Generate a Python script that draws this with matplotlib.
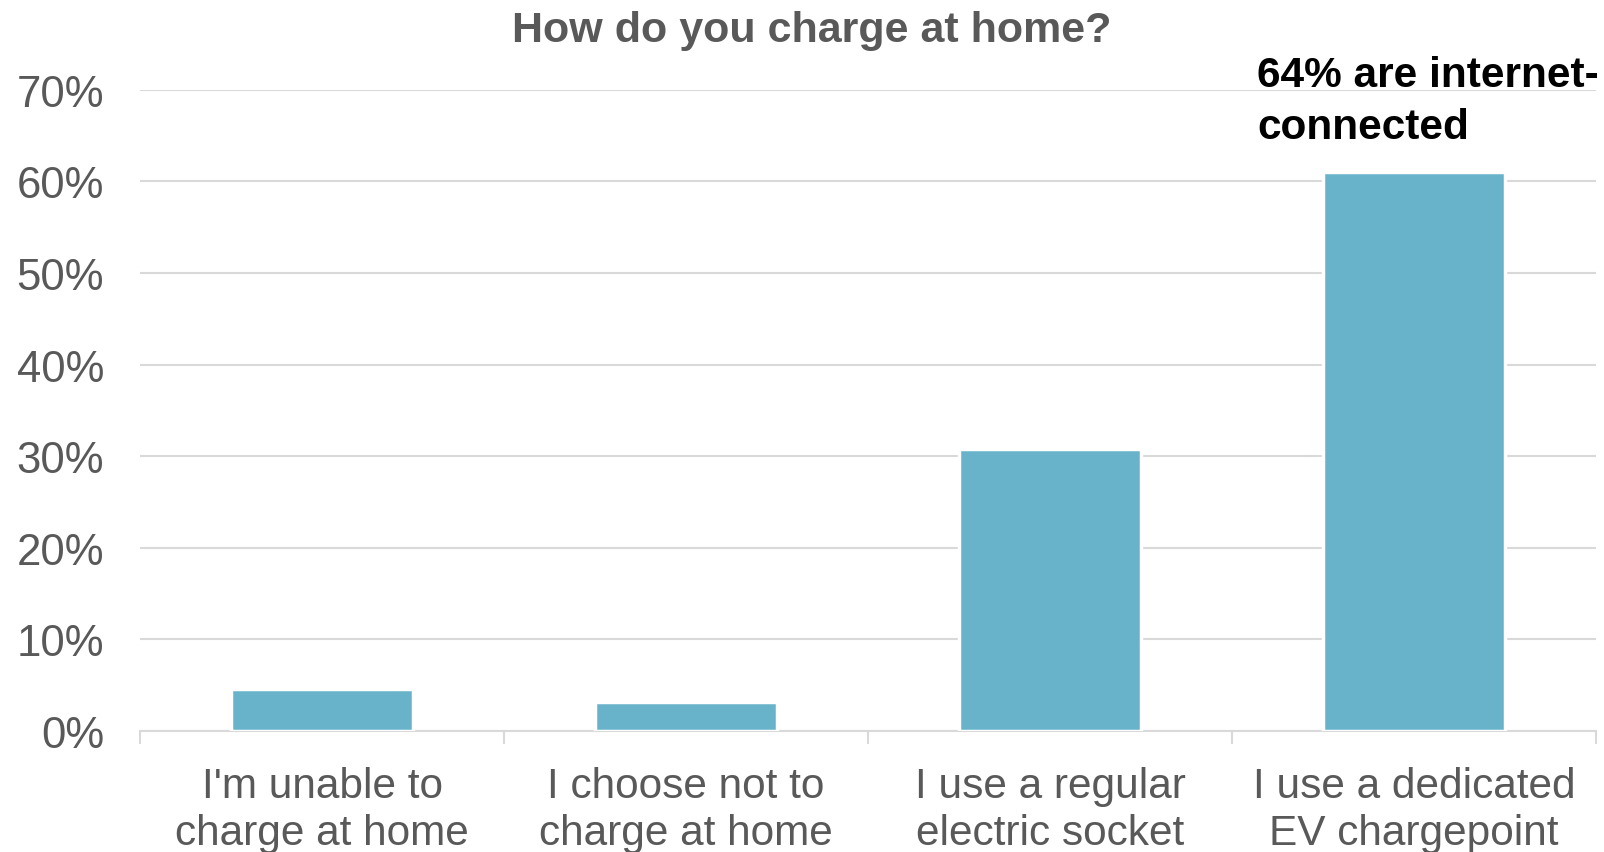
import matplotlib.pyplot as plt
import matplotlib.ticker as ticker

plt.rcParams['font.family'] = ['Liberation Sans', 'DejaVu Sans']

# Data
categories = ["I'm unable to\ncharge at home",
              "I choose not to\ncharge at home",
              "I use a regular\nelectric socket",
              "I use a dedicated\nEV chargepoint"]
shares = [0.046, 0.032, 0.308, 0.61]
y_ticks = [0, 0.1, 0.2, 0.3, 0.4, 0.5, 0.6, 0.7]

grey = '#595959'
grid_col = '#d9d9d9'
bar_col = '#68b3ca'

fig = plt.figure(figsize=(16.04, 8.53), dpi=100)
ax = fig.add_axes([0.0873, 0.1419, 0.9077, 0.7518])

x = range(len(categories))
ax.bar(x, shares, width=0.5, color=bar_col, edgecolor='white', linewidth=2.5, zorder=3)

ax.set_xlim(-0.5, len(categories) - 0.5)
ax.set_ylim(0, 0.7)
ax.set_yticks(y_ticks)
ax.yaxis.set_major_formatter(ticker.PercentFormatter(1.0, decimals=0))
ax.yaxis.grid(True, color=grid_col, linewidth=1.5, zorder=0)
ax.set_axisbelow(True)

# category separators as ticks on the x axis
ax.set_xticks([i - 0.5 for i in range(len(categories) + 1)])
ax.set_xticklabels([])
ax.set_xticks(list(x), minor=True)
ax.set_xticklabels(categories, minor=True, fontsize=30.5, color=grey, linespacing=1.24)
ax.tick_params(axis='x', which='major', length=9.5, width=1.5, color=grid_col, direction='out')
ax.tick_params(axis='x', which='minor', length=0, pad=25)
ax.tick_params(axis='y', length=0, pad=26, labelsize=31.5, labelcolor=grey)

for s in ['top', 'right', 'left']:
    ax.spines[s].set_visible(False)
ax.spines['bottom'].set_color(grid_col)
ax.spines['bottom'].set_linewidth(1.5)

fig.text(0.506, 0.951, 'How do you charge at home?', ha='center', va='baseline',
         fontsize=31, fontweight='bold', color=grey)
fig.text(1257 / 1604, 1 - 139 / 853, '64% are internet-\nconnected', ha='left', va='baseline',
         fontsize=30.5, fontweight='bold', color='black', linespacing=1.38)

plt.savefig('out.png', dpi=100)
